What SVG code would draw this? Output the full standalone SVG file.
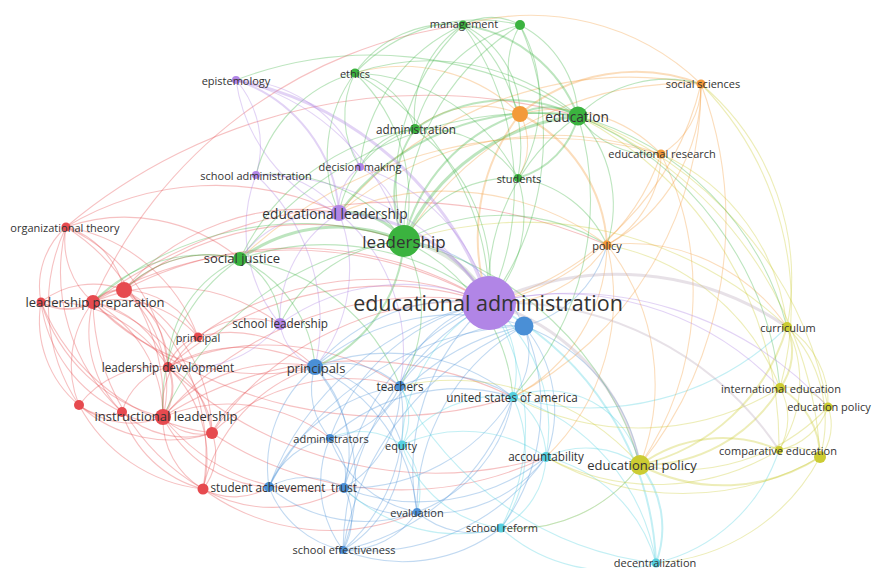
<svg xmlns="http://www.w3.org/2000/svg" width="872" height="568" viewBox="0 0 872 568">
<style>
.e path{fill:none;stroke-width:1.1;stroke-opacity:.34}
.p path{stroke:#a97fe2}.g path{stroke:#3fb444}.o path{stroke:#f29a3c}.r path{stroke:#e5484d}.b path{stroke:#4a8fd6}.c path{stroke:#4fcfe0}.y path{stroke:#c9c92e}
.w2{stroke-width:2!important}.w3{stroke-width:3!important}.w4{stroke-width:4.5!important}
.np{fill:#b185e6}.ng{fill:#3bb33f}.no{fill:#f39a3a}.nr{fill:#e64a4f}.nb{fill:#4a8fd6}.nc{fill:#55d0e0}.ny{fill:#cccc33}
text{font-family:"Open Sans","Liberation Sans",sans-serif;fill:#333;text-anchor:middle;dominant-baseline:central}
.t11{font-size:11px}.t12{font-size:11.7px}.t13{font-size:13px}.t14{font-size:13.7px}.t17{font-size:17px}.t21{font-size:21.5px}
</style>
<g id="connectors">
<g class="e r">
<path d="M66 227A80 80 0 0 0 93 302"/><path d="M66 227A85 85 0 0 1 124 290"/><path d="M66 227A80 80 0 0 0 41 302"/><path d="M66 227A175 175 0 0 1 168 367"/><path d="M66 227A210 210 0 0 1 163 417"/><path d="M66 227A180 180 0 0 0 79 405"/><path d="M66 227A170 170 0 0 1 198 337"/><path d="M66 227A180 180 0 0 1 240 259"/><path d="M66 227A190 190 0 0 0 122 412"/>
<path class="w2" d="M93 302A40 40 0 0 1 124 290"/><path class="w2" d="M41 302A52 52 0 0 0 93 302"/><path d="M93 302A100 100 0 0 1 168 367"/><path d="M93 302A130 130 0 0 1 163 417"/><path d="M93 302A110 110 0 0 1 198 337"/><path d="M93 302A113 113 0 0 0 122 412"/><path d="M93 302A104 104 0 0 0 79 405"/><path d="M93 302A175 175 0 0 1 212 433"/><path d="M93 302A220 220 0 0 0 203 489"/><path d="M93 302A190 190 0 0 1 280 324"/><path d="M93 302A230 230 0 0 0 315 367"/>
<path d="M124 290A90 90 0 0 1 168 367"/><path d="M124 290A130 130 0 0 1 163 417"/><path d="M124 290A85 85 0 0 1 198 337"/><path d="M124 290A165 165 0 0 1 212 433"/><path d="M124 290A205 205 0 0 1 203 489"/><path d="M124 290A85 85 0 0 0 41 302"/><path d="M124 290A230 230 0 0 1 339 213"/><path d="M124 290A290 290 0 0 1 404 241"/><path d="M124 290A120 120 0 0 1 240 259"/>
<path d="M41 302A110 110 0 0 0 79 405"/><path d="M41 302A140 140 0 0 0 122 412"/><path d="M41 302A170 170 0 0 0 163 417"/><path d="M41 302A140 140 0 0 1 168 367"/><path d="M41 302A215 215 0 0 0 212 433"/>
<path class="w2" d="M168 367A50 50 0 0 1 163 417"/><path d="M168 367A65 65 0 0 0 122 412"/><path d="M168 367A80 80 0 0 1 212 433"/><path d="M168 367A125 125 0 0 1 203 489"/><path d="M168 367A147 147 0 0 1 315 367"/><path d="M168 367A45 45 0 0 1 198 337"/><path d="M168 367A100 100 0 0 0 79 405"/><path d="M168 367A235 235 0 0 1 400 386"/>
<path d="M79 405A85 85 0 0 0 163 417"/><path d="M122 412A41 41 0 0 0 163 417"/><path d="M163 417A51 51 0 0 0 212 433"/><path d="M163 417A80 80 0 0 0 203 489"/><path d="M163 417A160 160 0 0 1 315 367"/><path d="M163 417A125 125 0 0 0 269 487"/><path d="M163 417A190 190 0 0 0 344 488"/><path d="M163 417A87 87 0 0 1 198 337"/><path d="M163 417A170 170 0 0 1 330 438"/>
<path d="M79 405A43 43 0 0 0 122 412"/><path d="M79 405A135 135 0 0 0 212 433"/><path d="M79 405A160 160 0 0 0 203 489"/><path d="M122 412A92 92 0 0 0 212 433"/><path d="M122 412A115 115 0 0 0 203 489"/><path d="M212 433A57 57 0 0 1 203 489"/><path d="M203 489A66 66 0 0 0 269 487"/><path d="M203 489A165 165 0 0 1 315 367"/><path d="M212 433A120 120 0 0 1 315 367"/><path d="M212 433A195 195 0 0 1 400 386"/><path d="M203 489A141 141 0 0 0 344 488"/><path d="M198 337A120 120 0 0 1 315 367"/><path d="M198 337A85 85 0 0 1 280 324"/>
<path d="M93 302A520 520 0 0 1 607 245"/><path d="M93 302A430 430 0 0 0 513 397"/><path d="M163 417A360 360 0 0 1 513 397"/><path d="M168 367A390 390 0 0 0 546 457"/><path d="M212 433A340 340 0 0 0 546 457"/><path d="M203 489A215 215 0 0 0 417 512"/><path d="M66 227A560 560 0 0 1 578 116"/><path d="M93 302A470 470 0 0 1 463 25"/><path d="M66 227A290 290 0 0 1 339 213"/>
<path d="M93 302A400 400 0 0 1 489 303"/><path d="M124 290A370 370 0 0 1 489 303"/><path d="M163 417A350 350 0 0 1 489 303"/><path d="M168 367A330 330 0 0 1 489 303"/><path d="M198 337A295 295 0 0 1 489 303"/><path d="M212 433A305 305 0 0 1 489 303"/>
</g>
<g class="e b">
<path d="M315 367A215 215 0 0 1 524 326"/><path d="M400 386A135 135 0 0 1 524 326"/><path d="M524 326A71 71 0 0 1 513 397"/><path d="M524 326A131 131 0 0 1 546 457"/><path d="M269 487A300 300 0 0 1 524 326"/><path d="M524 326A180 180 0 0 1 640 465"/><path d="M344 488A240 240 0 0 1 524 326"/><path d="M417 512A210 210 0 0 1 524 326"/><path d="M343 550A290 290 0 0 1 524 326"/><path d="M524 326A150 150 0 0 0 404 241"/><path d="M524 326A115 115 0 0 0 607 245"/><path d="M524 326A203 203 0 0 1 501 528"/>
<path d="M315 367A87 87 0 0 1 400 386"/><path d="M315 367A73 73 0 0 0 330 438"/><path d="M315 367A125 125 0 0 1 344 488"/><path d="M315 367A130 130 0 0 0 269 487"/><path d="M315 367A185 185 0 0 1 343 550"/><path d="M315 367A178 178 0 0 1 417 512"/><path d="M315 367A200 200 0 0 1 513 397"/><path d="M315 367A115 115 0 0 1 402 445"/>
<path d="M400 386A87 87 0 0 1 330 438"/><path d="M400 386A115 115 0 0 1 344 488"/><path d="M400 386A175 175 0 0 1 343 550"/><path d="M400 386A115 115 0 0 1 513 397"/><path d="M330 438A52 52 0 0 1 344 488"/><path d="M330 438A112 112 0 0 0 343 550"/><path d="M330 438A80 80 0 0 0 269 487"/><path d="M330 438A115 115 0 0 0 417 512"/><path d="M330 438A190 190 0 0 1 513 397"/>
<path d="M344 488A62 62 0 0 1 343 550"/><path d="M269 487A75 75 0 0 1 344 488"/><path d="M344 488A77 77 0 0 0 417 512"/><path d="M344 488A195 195 0 0 0 513 397"/><path d="M344 488A205 205 0 0 0 546 457"/><path d="M269 487A100 100 0 0 0 343 550"/><path d="M269 487A170 170 0 0 1 400 386"/><path d="M269 487A150 150 0 0 0 417 512"/>
<path d="M417 512A85 85 0 0 1 343 550"/><path d="M417 512A140 140 0 0 0 546 457"/><path d="M417 512A150 150 0 0 0 513 397"/><path d="M417 512A86 86 0 0 0 501 528"/><path d="M343 550A120 120 0 0 0 402 445"/><path d="M343 550A160 160 0 0 0 501 528"/><path d="M343 550A230 230 0 0 0 513 397"/><path d="M343 550A220 220 0 0 0 546 457"/>
<path d="M315 367A190 190 0 0 1 489 303"/><path d="M400 386A120 120 0 0 1 489 303"/><path d="M330 438A210 210 0 0 1 489 303"/><path d="M344 488A235 235 0 0 1 489 303"/><path d="M417 512A220 220 0 0 1 489 303"/><path d="M343 550A290 290 0 0 1 489 303"/><path d="M269 487A290 290 0 0 1 489 303"/>
</g>
<g class="e c">
<path d="M513 397A70 70 0 0 1 546 457"/><path d="M513 397A120 120 0 0 0 402 445"/><path d="M513 397A130 130 0 0 1 501 528"/><path d="M513 397A210 210 0 0 1 656 563"/><path d="M513 397A95 95 0 0 1 640 465"/><path d="M546 457A83 83 0 0 1 501 528"/><path d="M546 457A94 94 0 0 1 640 465"/><path d="M546 457A150 150 0 0 1 656 563"/><path d="M402 445A145 145 0 0 1 546 457"/><path d="M402 445A120 120 0 0 0 501 528"/><path d="M344 488A165 165 0 0 0 501 528"/><path d="M501 528A160 160 0 0 0 656 563"/><path d="M501 528A155 155 0 0 0 640 465"/><path class="w2" d="M640 465A100 100 0 0 1 656 563"/><path d="M402 445A70 70 0 0 1 417 512"/><path d="M330 438A72 72 0 0 1 402 445"/><path d="M400 386A60 60 0 0 1 402 445"/><path d="M656 563A330 330 0 0 1 400 386"/><path d="M656 563A170 170 0 0 0 779 450"/><path d="M513 397A280 280 0 0 0 787 327"/>
<path class="w2" d="M489 303A305 305 0 0 1 656 563"/><path d="M489 303A100 100 0 0 1 513 397"/><path d="M489 303A160 160 0 0 1 546 457"/><path d="M402 445A165 165 0 0 1 489 303"/><path d="M501 528A225 225 0 0 0 489 303"/>
</g>
<g class="e y">
<path class="w2" d="M787 327A61 61 0 0 1 780 388"/><path d="M787 327A90 90 0 0 1 828 407"/><path d="M787 327A123 123 0 0 1 779 450"/><path d="M787 327A133 133 0 0 1 820 457"/><path class="w2" d="M787 327A200 200 0 0 1 640 465"/><path d="M780 388A50 50 0 0 1 828 407"/><path d="M780 388A62 62 0 0 1 779 450"/><path class="w2" d="M780 388A80 80 0 0 1 820 457"/><path class="w2" d="M780 388A160 160 0 0 1 640 465"/><path d="M828 407A66 66 0 0 1 779 450"/><path d="M828 407A51 51 0 0 1 820 457"/><path d="M779 450A42 42 0 0 1 820 457"/><path class="w2" d="M779 450A140 140 0 0 0 640 465"/><path class="w2" d="M820 457A180 180 0 0 1 640 465"/><path d="M828 407A200 200 0 0 1 640 465"/>
<path d="M787 327A385 385 0 0 0 404 241"/><path d="M780 388A230 230 0 0 0 607 245"/><path d="M779 450A370 370 0 0 0 578 116"/><path d="M820 457A390 390 0 0 0 578 116"/><path d="M780 388A270 270 0 0 1 513 397"/><path d="M779 450A235 235 0 0 1 546 457"/><path d="M820 457A275 275 0 0 1 546 457"/><path d="M640 465A155 155 0 0 1 501 528"/><path d="M828 407A385 385 0 0 0 578 116"/><path d="M820 457A200 200 0 0 1 656 563"/><path d="M640 465A250 250 0 0 0 400 386"/><path d="M701 84A255 255 0 0 1 787 327"/><path d="M701 84A315 315 0 0 1 780 388"/><path d="M661 154A215 215 0 0 1 787 327"/>
</g>
<g class="e o">
<path class="w2" d="M520 114A180 180 0 0 1 701 84"/><path d="M520 114A145 145 0 0 1 661 154"/><path class="w2" d="M520 114A155 155 0 0 1 607 245"/><path d="M520 114A64 64 0 0 1 518 178"/><path class="w2" d="M520 114A200 200 0 0 0 489 303"/><path d="M520 114A105 105 0 0 0 415 129"/><path d="M520 114A170 170 0 0 0 355 73"/>
<path d="M701 84A80 80 0 0 1 661 154"/><path d="M701 84A180 180 0 0 1 607 245"/><path d="M701 84A390 390 0 0 1 640 465"/><path d="M701 84A330 330 0 0 0 404 241"/><path d="M701 84A380 380 0 0 0 339 213"/><path d="M463 25A245 245 0 0 1 701 84"/><path d="M701 84A350 350 0 0 1 513 397"/>
<path d="M661 154A105 105 0 0 1 607 245"/><path d="M661 154A310 310 0 0 1 640 465"/><path d="M661 154A330 330 0 0 0 339 213"/><path d="M661 154A440 440 0 0 0 240 259"/><path d="M607 245A225 225 0 0 1 640 465"/><path d="M607 245A175 175 0 0 1 513 397"/><path d="M607 245A220 220 0 0 1 546 457"/><path d="M607 245A270 270 0 0 0 339 213"/><path d="M607 245A190 190 0 0 1 787 327"/>
<path d="M489 303A225 225 0 0 0 661 154"/><path d="M489 303A300 300 0 0 0 701 84"/><path d="M489 303A130 130 0 0 0 607 245"/>
</g>
<g class="e g">
<path class="w3" d="M404 241A215 215 0 0 1 578 116"/><path class="w2" d="M404 241A115 115 0 0 1 415 129"/><path d="M355 73A175 175 0 0 1 404 241"/><path d="M463 25A220 220 0 0 0 404 241"/><path d="M520 25A245 245 0 0 0 404 241"/><path class="w3" d="M240 259A165 165 0 0 1 404 241"/><path d="M404 241A125 125 0 0 1 518 178"/><path class="w3" d="M339 213A70 70 0 0 1 404 241"/><path class="w2" d="M404 241A150 150 0 0 1 315 367"/><path d="M404 241A150 150 0 0 0 280 324"/><path d="M404 241A145 145 0 0 1 400 386"/><path d="M93 302A315 315 0 0 1 404 241"/><path d="M163 417A300 300 0 0 1 404 241"/><path d="M404 241A190 190 0 0 1 513 397"/><path d="M404 241A200 200 0 0 1 607 245"/><path class="w2" d="M404 241A175 175 0 0 1 520 114"/><path d="M256 175A160 160 0 0 1 404 241"/><path d="M404 241A320 320 0 0 1 640 465"/>
<path class="w2" d="M463 25A145 145 0 0 1 578 116"/><path d="M520 25A107 107 0 0 1 578 116"/><path class="w2" d="M578 116A85 85 0 0 1 518 178"/><path class="w2" d="M415 129A163 163 0 0 1 578 116"/><path d="M355 73A230 230 0 0 1 578 116"/><path d="M578 116A125 125 0 0 1 701 84"/><path d="M578 116A90 90 0 0 0 661 154"/><path class="w2" d="M520 114A58 58 0 0 1 578 116"/><path d="M578 116A130 130 0 0 1 607 245"/><path d="M578 116A300 300 0 0 1 787 327"/><path d="M578 116A330 330 0 0 1 780 388"/><path class="w2" d="M339 213A250 250 0 0 1 578 116"/><path d="M240 259A370 370 0 0 1 578 116"/><path d="M578 116A290 290 0 0 1 513 397"/><path d="M236 80A380 380 0 0 1 578 116"/>
<path d="M463 25A57 57 0 0 1 520 25"/><path d="M355 73A115 115 0 0 1 463 25"/><path d="M463 25A110 110 0 0 0 415 129"/><path d="M463 25A160 160 0 0 1 518 178"/><path d="M463 25A100 100 0 0 1 520 114"/><path d="M463 25A175 175 0 0 0 360 167"/><path d="M520 25A145 145 0 0 0 415 129"/><path d="M520 25A153 153 0 0 1 518 178"/><path d="M520 25A89 89 0 0 0 520 114"/><path d="M355 73A170 170 0 0 1 520 25"/><path d="M520 25A280 280 0 0 1 489 303"/>
<path d="M355 73A80 80 0 0 1 415 129"/><path d="M355 73A94 94 0 0 0 360 167"/><path d="M355 73A140 140 0 0 0 256 175"/><path d="M355 73A140 140 0 0 0 339 213"/><path d="M355 73A190 190 0 0 1 518 178"/><path d="M415 129A70 70 0 0 0 360 167"/><path d="M415 129A115 115 0 0 1 518 178"/><path d="M415 129A110 110 0 0 0 339 213"/><path d="M415 129A230 230 0 0 0 240 259"/><path d="M518 178A115 115 0 0 1 607 245"/>
<path d="M240 259A75 75 0 0 1 280 324"/><path d="M240 259A130 130 0 0 1 315 367"/><path d="M240 259A155 155 0 0 0 93 302"/><path d="M240 259A175 175 0 0 0 163 417"/><path d="M240 259A120 120 0 0 0 168 367"/><path d="M240 259A120 120 0 0 0 124 290"/><path d="M240 259A200 200 0 0 1 400 386"/>
<path d="M355 73A265 265 0 0 1 489 303"/><path d="M463 25A280 280 0 0 1 489 303"/><path d="M415 129A190 190 0 0 1 489 303"/><path d="M518 178A125 125 0 0 1 489 303"/><path d="M489 303A210 210 0 0 1 578 116"/><path d="M240 259A260 260 0 0 1 489 303"/>
</g>
<g class="e p">
<path class="w4" style="stroke:#9fb89a" d="M489 303A110 110 0 0 0 404 241"/><path class="w3" d="M339 213A180 180 0 0 1 489 303"/><path class="w3" d="M236 80A340 340 0 0 1 489 303"/><path d="M280 324A210 210 0 0 1 489 303"/><path d="M256 175A270 270 0 0 1 489 303"/><path d="M360 167A190 190 0 0 1 489 303"/>
<path class="w3" style="stroke:#b9a7b8" d="M489 303A300 300 0 0 1 787 327"/><path d="M489 303A300 300 0 0 1 780 388"/><path class="w2" style="stroke:#b9a7b8" d="M489 303A330 330 0 0 1 779 450"/><path class="w3" style="stroke:#b9a7b8" d="M489 303A215 215 0 0 1 640 465"/><path d="M489 303A350 350 0 0 1 828 407"/>
<path d="M236 80A230 230 0 0 1 404 241"/><path d="M236 80A100 100 0 0 1 256 175"/><path d="M236 80A170 170 0 0 0 339 213"/><path d="M256 175A90 90 0 0 1 339 213"/><path d="M256 175A150 150 0 0 0 280 324"/><path d="M256 175A200 200 0 0 1 315 367"/><path d="M360 167A50 50 0 0 0 339 213"/><path d="M360 167A85 85 0 0 1 404 241"/><path d="M339 213A125 125 0 0 0 280 324"/><path d="M339 213A155 155 0 0 1 315 367"/><path d="M339 213A110 110 0 0 0 240 259"/><path d="M280 324A55 55 0 0 0 315 367"/><path d="M339 213A180 180 0 0 1 400 386"/><path d="M280 324A120 120 0 0 1 168 367"/><path d="M236 80A135 135 0 0 1 360 167"/><path class="w2" d="M236 80A150 150 0 0 1 339 213"/>
</g>
</g>
<g id="n-r3"><circle cx="41" cy="302" r="4.5" class="nr"/></g>
<g id="n-r2"><circle cx="124" cy="290" r="8" class="nr"/></g>
<g id="n-r4"><circle cx="79" cy="405" r="5" class="nr"/></g>
<g id="n-r5"><circle cx="122" cy="412" r="5" class="nr"/></g>
<g id="n-r6"><circle cx="212" cy="433" r="6" class="nr"/></g>
<g id="n-r7"><circle cx="203" cy="489" r="5.5" class="nr"/></g>
<g id="n-o1"><circle cx="520" cy="114" r="8" class="no"/></g>
<g id="n-g2"><circle cx="520" cy="25" r="5" class="ng"/></g>
<g id="n-y2"><circle cx="820" cy="457" r="6" class="ny"/></g>
<g id="n-b1"><circle cx="524" cy="326" r="9.5" class="nb"/></g>
<g id="n-epistemology"><circle cx="236" cy="80" r="4" class="np"/><text x="236" y="80" class="t11">epistemology</text></g>
<g id="n-school-administration"><circle cx="256" cy="175" r="4" class="np"/><text x="256" y="175" class="t11">school administration</text></g>
<g id="n-decision-making"><circle cx="360" cy="167" r="4" class="np"/><text x="360" y="166" class="t11">decision making</text></g>
<g id="n-management"><circle cx="463" cy="25" r="4.5" class="ng"/><text x="464" y="23" class="t11">management</text></g>
<g id="n-ethics"><circle cx="355" cy="73" r="4.5" class="ng"/><text x="355" y="73" class="t11">ethics</text></g>
<g id="n-administration"><circle cx="415" cy="129" r="5" class="ng"/><text x="416" y="129" class="t12">administration</text></g>
<g id="n-students"><circle cx="518" cy="178" r="4" class="ng"/><text x="519" y="178" class="t11">students</text></g>
<g id="n-social-sciences"><circle cx="701" cy="84" r="4.5" class="no"/><text x="703" y="83" class="t11">social sciences</text></g>
<g id="n-educational-research"><circle cx="661" cy="154" r="4.5" class="no"/><text x="662" y="153" class="t11">educational research</text></g>
<g id="n-policy"><circle cx="607" cy="245" r="4.5" class="no"/><text x="607" y="245" class="t11">policy</text></g>
<g id="n-organizational-theory"><circle cx="66" cy="227" r="4.5" class="nr"/><text x="65" y="227" class="t11">organizational theory</text></g>
<g id="n-principal"><circle cx="198" cy="337" r="4.5" class="nr"/><text x="198" y="337" class="t11">principal</text></g>
<g id="n-leadership-development"><circle cx="168" cy="367" r="5" class="nr"/><text x="168" y="367" class="t12">leadership development</text></g>
<g id="n-school-leadership"><circle cx="280" cy="324" r="6" class="np"/><text x="280" y="323" class="t12">school leadership</text></g>
<g id="n-teachers"><circle cx="400" cy="386" r="5" class="nb"/><text x="400" y="386" class="t12">teachers</text></g>
<g id="n-administrators"><circle cx="330" cy="438" r="4" class="nb"/><text x="331" y="438" class="t11">administrators</text></g>
<g id="n-trust"><circle cx="344" cy="488" r="5" class="nb"/><text x="344" y="487" class="t12">trust</text></g>
<g id="n-student-achievement"><circle cx="269" cy="487" r="5" class="nb"/><text x="268" y="487" class="t12">student achievement</text></g>
<g id="n-evaluation"><circle cx="417" cy="512" r="4" class="nb"/><text x="417" y="512" class="t11">evaluation</text></g>
<g id="n-school-effectiveness"><circle cx="343" cy="550" r="4" class="nb"/><text x="344" y="549" class="t11">school effectiveness</text></g>
<g id="n-united-states-of-america"><circle cx="513" cy="397" r="5" class="nc"/><text x="512" y="397" class="t12">united states of america</text></g>
<g id="n-equity"><circle cx="402" cy="445" r="4.5" class="nc"/><text x="401" y="445" class="t11">equity</text></g>
<g id="n-accountability"><circle cx="546" cy="457" r="5" class="nc"/><text x="546" y="456" class="t12">accountability</text></g>
<g id="n-school-reform"><circle cx="501" cy="528" r="4.5" class="nc"/><text x="502" y="527" class="t11">school reform</text></g>
<g id="n-decentralization"><circle cx="656" cy="563" r="4.5" class="nc"/><text x="655" y="562" class="t11">decentralization</text></g>
<g id="n-curriculum"><circle cx="787" cy="327" r="5" class="ny"/><text x="788" y="327" class="t11">curriculum</text></g>
<g id="n-international-education"><circle cx="780" cy="388" r="5" class="ny"/><text x="781" y="388" class="t11">international education</text></g>
<g id="n-education-policy"><circle cx="828" cy="407" r="4.5" class="ny"/><text x="829" y="406" class="t11">education policy</text></g>
<g id="n-comparative-education"><circle cx="779" cy="450" r="4" class="ny"/><text x="778" y="450" class="t11">comparative education</text></g>
<g id="n-educational-policy"><circle cx="640" cy="465" r="10" class="ny"/><text x="642" y="465" class="t13">educational policy</text></g>
<g id="n-principals"><circle cx="315" cy="367" r="8" class="nb"/><text x="316" y="368" class="t13">principals</text></g>
<g id="n-instructional-leadership"><circle cx="163" cy="417" r="8" class="nr"/><text x="166" y="416" class="t13">instructional leadership</text></g>
<g id="n-leadership-preparation"><circle cx="93" cy="302" r="7" class="nr"/><text x="95" y="302" class="t13">leadership preparation</text></g>
<g id="n-social-justice"><circle cx="240" cy="259" r="7" class="ng"/><text x="242" y="258" class="t13">social justice</text></g>
<g id="n-education"><circle cx="578" cy="116" r="9.5" class="ng"/><text x="577" y="116" class="t14">education</text></g>
<g id="n-educational-leadership"><circle cx="339" cy="213" r="8" class="np"/><text x="335" y="213" class="t14">educational leadership</text></g>
<g id="n-leadership"><circle cx="404" cy="241" r="16" class="ng"/><text x="404" y="241" class="t17">leadership</text></g>
<g id="n-educational-administration"><circle cx="489" cy="303" r="27" class="np"/><text x="488" y="302" class="t21">educational administration</text></g>
</svg>
